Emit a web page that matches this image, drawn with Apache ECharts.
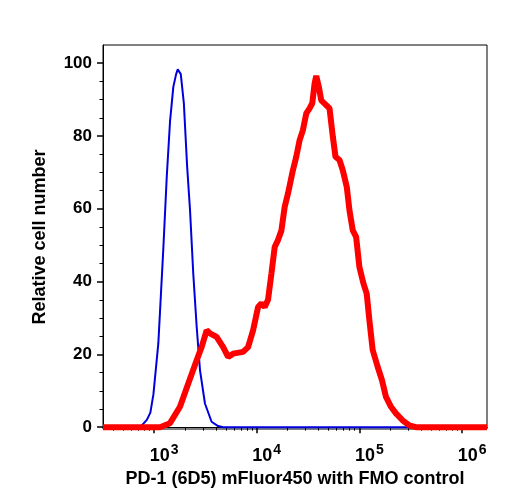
<!DOCTYPE html>
<html>
<head>
<meta charset="utf-8">
<script src="https://cdn.jsdelivr.net/npm/echarts@6/dist/echarts.min.js"></script>
<style>
  html, body { margin: 0; padding: 0; background: #fff; }
  #chart { width: 508px; height: 500px; }
</style>
</head>
<body>
<div id="chart"></div>
<script>
// FMO control (blue) - fluorescence intensity / relative count
var fmoX = [318, 700, 760, 850, 920, 985, 1100, 1230, 1330, 1430, 1540, 1640, 1700, 1760, 1820, 1950, 2100, 2240, 2410, 2600, 2800, 3130, 3630, 4200, 4710, 1750000];
var fmoY = [0, 0, 0.5, 2, 4, 9, 23, 49, 69, 84, 93.5, 97, 98.3, 98, 97, 89, 71.5, 59.6, 42, 27.6, 15.7, 6.5, 1.5, 0.3, 0, 0];

// PD-1 stained (red)
var pd1X = [318, 1143, 1429, 1788, 2153, 2599, 2904, 3251, 3500, 4064, 4710, 5262, 5885, 7364, 8237, 9210, 10300, 11120, 11970, 12880, 13900, 14960, 16110, 17380, 18710, 20150, 22510, 24270, 26130, 28170, 30390, 32730, 34760, 36590, 38000, 40270, 42470, 47500, 51170, 55110, 58500, 63990, 68900, 75360, 80020, 86150, 92920, 100000, 109400, 117800, 125100, 134700, 150600, 166000, 181600, 203100, 227100, 263300, 305800, 355000, 1750000];
var pd1Y = [0, 0, 1.1, 5.6, 12, 18.4, 22, 26.6, 25.8, 24.8, 22, 19.3, 20.2, 20.7, 22, 26.6, 33, 34, 33, 35, 42.2, 49.5, 51.4, 54, 60.5, 64.2, 70.6, 74.3, 78.8, 81.6, 86.2, 87.6, 89, 94.4, 96.5, 93.5, 89.8, 88.5, 87.6, 79.8, 74.3, 73.4, 70.6, 66, 59.6, 54.1, 52.3, 44, 39.5, 36.7, 29.4, 21.2, 16.6, 12.9, 8.3, 5.6, 3.8, 1.9, 0.5, 0, 0];

var xMajor = [1000, 10000, 100000, 1000000];
var xMinor = [];
for (var d = 100; d <= 1000000; d *= 10) {
    for (var k = 2; k <= 9; k++) {
        if (k * d > 318 && k * d < 1750000) xMinor.push(k * d);
    }
}
var yMajor = [0, 20, 40, 60, 80, 100];
var yMinor = [5, 10, 15, 25, 30, 35, 45, 50, 55, 65, 70, 75, 85, 90, 95];

function zip(xs, ys) {
    var out = [];
    for (var i = 0; i < xs.length; i++) out.push([xs[i], ys[i]]);
    return out;
}

var FONT = '"Liberation Sans", Arial, Helvetica, sans-serif';
var chart = echarts.init(document.getElementById('chart'));

var option = {
    animation: false,
    backgroundColor: '#fff',
    grid: {
        left: 103, right: 21, top: 45, bottom: 71,
        show: true, borderColor: '#000', borderWidth: 1
    },
    xAxis: [{
        type: 'log',
        logBase: 10,
        min: 318,
        max: 1750000,
        position: 'bottom',
        name: 'PD-1 (6D5) mFluor450 with FMO control',
        nameLocation: 'middle',
        nameGap: 36,
        nameTextStyle: { fontFamily: FONT, fontWeight: 'bold', fontSize: 18, color: '#000' },
        axisLine: { show: true, lineStyle: { color: '#000', width: 1 } },
        axisTick: { show: true, inside: false, length: 6, customValues: xMajor, lineStyle: { color: '#000', width: 1.5 } },
        axisLabel: {
            customValues: xMajor,
            margin: 14,
            padding: [0, 0, 0, 20],
            formatter: function (v) {
                return '{b|10}{s|' + Math.round(Math.log10(v)) + '}';
            },
            rich: {
                b: { fontFamily: FONT, fontWeight: 'bold', fontSize: 18, color: '#000', verticalAlign: 'bottom' },
                s: { fontFamily: FONT, fontWeight: 'bold', fontSize: 14, color: '#000', verticalAlign: 'bottom', padding: [0, 0, 8, 1] }
            }
        },
        splitLine: { show: false }
    }, {
        type: 'log',
        logBase: 10,
        min: 318,
        max: 1750000,
        position: 'bottom',
        axisLine: { show: false },
        axisTick: { show: true, length: 3.5, customValues: xMinor, lineStyle: { color: '#000', width: 1 } },
        axisLabel: { show: false },
        splitLine: { show: false }
    }],
    yAxis: [{
        type: 'value',
        min: -0.5,
        max: 105,
        position: 'left',
        name: 'Relative cell number',
        nameLocation: 'middle',
        nameGap: 54,
        nameTextStyle: { fontFamily: FONT, fontWeight: 'bold', fontSize: 18, color: '#000' },
        axisLine: { show: true, lineStyle: { color: '#000', width: 1 } },
        axisTick: { show: true, length: 6, customValues: yMajor, lineStyle: { color: '#000', width: 1.5 } },
        axisLabel: {
            customValues: yMajor,
            margin: 11,
            fontFamily: FONT, fontWeight: 'bold', fontSize: 17, color: '#000'
        },
        splitLine: { show: false }
    }, {
        type: 'value',
        min: -0.5,
        max: 105,
        position: 'left',
        axisLine: { show: false },
        axisTick: { show: true, length: 3.5, customValues: yMinor, lineStyle: { color: '#000', width: 1 } },
        axisLabel: { show: false },
        splitLine: { show: false }
    }],
    series: [{
        name: 'FMO control',
        type: 'line',
        xAxisIndex: 0,
        yAxisIndex: 0,
        data: zip(fmoX, fmoY),
        showSymbol: false,
        lineStyle: { color: '#0000dd', width: 2 },
        z: 2
    }, {
        name: 'PD-1 (6D5) mFluor450',
        type: 'line',
        xAxisIndex: 0,
        yAxisIndex: 0,
        data: zip(pd1X, pd1Y),
        showSymbol: false,
        lineStyle: { color: '#ff0000', width: 6 },
        z: 3
    }]
};

chart.setOption(option);
</script>
</body>
</html>
